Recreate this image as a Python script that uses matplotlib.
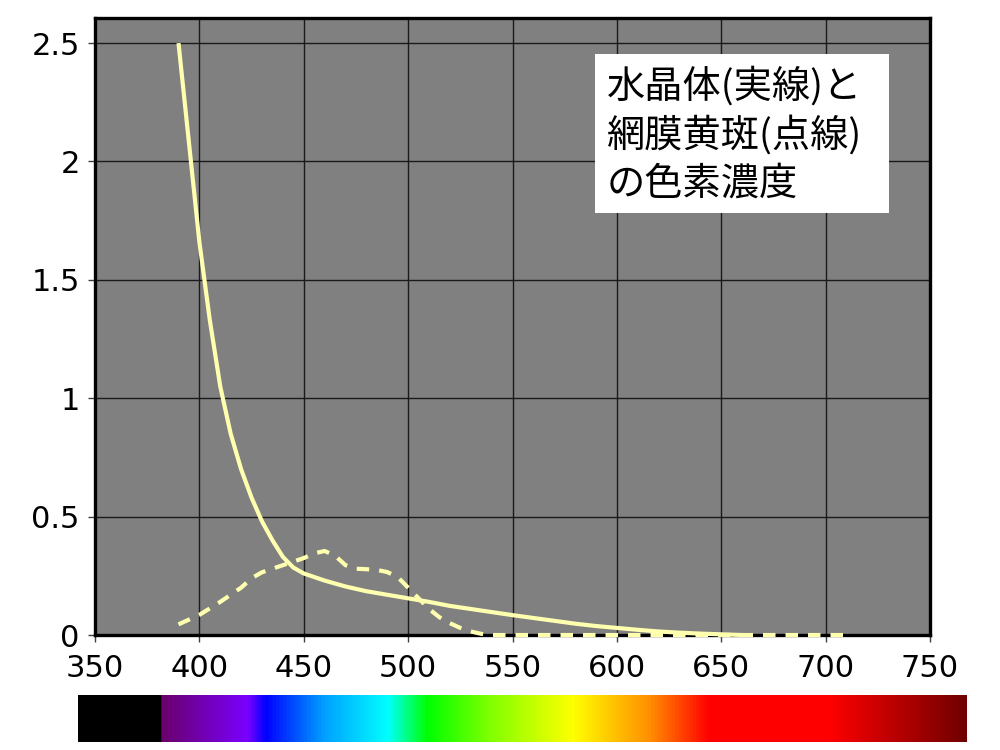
import matplotlib.pyplot as plt
import numpy as np
from matplotlib.colors import LinearSegmentedColormap
from matplotlib.patches import Rectangle

plt.rcParams['font.family'] = ['DejaVu Sans']

# lens pigment density (solid)
lens_nm = [390, 395, 400, 405, 410, 415, 420, 425, 430, 435, 440, 445, 450,
           460, 470, 480, 490, 500, 510, 520, 530, 540, 550, 560, 570, 580,
           590, 600, 610, 620, 630, 640, 650, 660]
lens_od = [2.5, 2.08, 1.66, 1.33, 1.05, 0.85, 0.70, 0.58, 0.48, 0.40, 0.33,
           0.285, 0.26, 0.23, 0.205, 0.185, 0.17, 0.155, 0.14, 0.123, 0.11,
           0.097, 0.084, 0.072, 0.06, 0.048, 0.038, 0.03, 0.022, 0.015, 0.01,
           0.006, 0.003, 0.0]

# macular pigment density (dashed)
mac_nm = [390, 400, 410, 420, 425, 430, 440, 450, 455, 460, 465, 470, 475,
          480, 485, 490, 495, 500, 505, 510, 515, 520, 525, 530, 535, 540,
          560, 600, 650, 710]
mac_od = [0.045, 0.085, 0.14, 0.20, 0.24, 0.265, 0.295, 0.325, 0.345, 0.355,
          0.335, 0.295, 0.28, 0.278, 0.275, 0.266, 0.245, 0.20, 0.155, 0.11,
          0.075, 0.05, 0.03, 0.015, 0.005, 0.0, 0.0, 0.0, 0.0, 0.0]

x_ticks = [350, 400, 450, 500, 550, 600, 650, 700, 750]
y_ticks = [0, 0.5, 1, 1.5, 2, 2.5]
y_labels = ['0', '0.5', '1', '1.5', '2', '2.5']

label_lines = ['水晶体(実線)と', '網膜黄斑(点線)', 'の色素濃度']

# spectrum strip stops
spec_stops = [(0.0, '#000000'), (0.091, '#000000'), (0.092, '#6a006a'),
              (0.19, '#7a00ff'), (0.21, '#0000ff'), (0.276, '#00a0ff'),
              (0.348, '#00ffff'), (0.393, '#00ff00'), (0.463, '#80ff00'),
              (0.557, '#ffff00'), (0.643, '#ff9000'), (0.711, '#ff0000'),
              (0.846, '#ff0000'), (1.0, '#700000')]

fig = plt.figure(figsize=(10, 7.5), dpi=100)
ax = fig.add_axes([0.095, 0.1533, 0.835, 0.8227])
ax.set_facecolor('#808080')

line_col = '#ffffb0'
ax.plot(lens_nm, lens_od, color=line_col, lw=3, solid_capstyle='butt',
        zorder=4.5, clip_on=False)
ax.plot(mac_nm, mac_od, color=line_col, lw=3, dashes=(3, 2.4),
        zorder=4.5, clip_on=False)

ax.set_xlim(350, 750)
ax.set_ylim(0, 2.606)
ax.set_xticks(x_ticks)
ax.set_yticks(y_ticks)
ax.set_yticklabels(y_labels)
ax.grid(True, color='#1a1a1a', lw=1.0)
ax.set_axisbelow(True)
ax.tick_params(direction='out', length=5, width=1, color='#404040',
               labelsize=22)
ax.tick_params(axis='x', pad=9)
ax.tick_params(axis='y', pad=6)
for s in ax.spines.values():
    s.set_linewidth(2.4)
    s.set_color('black')
    s.set_zorder(4)

# white label box
ax.add_patch(Rectangle((0.599, 0.684), 0.352, 0.258, transform=ax.transAxes,
                       facecolor='white', edgecolor='none', zorder=5))
for txt, yy in zip(label_lines, [0.8882, 0.8088, 0.7310]):
    ax.text(0.613, yy, txt, transform=ax.transAxes, ha='left', va='center',
            fontsize=27.5, family=['Noto Sans CJK JP', 'DejaVu Sans'],
            zorder=6)

# spectrum strip
cmap = LinearSegmentedColormap.from_list('spec', spec_stops)
cax = fig.add_axes([0.078, 0.0107, 0.889, 0.0626])
cax.imshow(np.linspace(0, 1, 512)[None, :], aspect='auto', cmap=cmap,
           extent=[0, 1, 0, 1])
cax.set_axis_off()

fig.savefig('out.png', dpi=100)
